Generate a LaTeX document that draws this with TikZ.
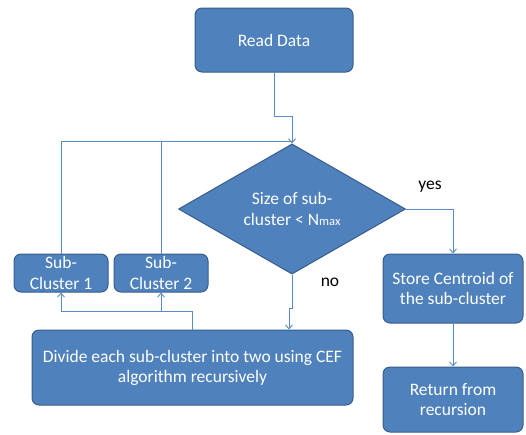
\documentclass[tikz,border=0pt]{standalone}
\usepackage{fontspec}
\setmainfont{Carlito}
\usepackage{tikz}
\usetikzlibrary{shapes,shapes.geometric}
\usetikzlibrary{calc}
\usetikzlibrary{arrows,arrows.meta}
\definecolor{hopnen}{RGB}{79,129,189}
\definecolor{hopvien}{RGB}{56,93,138}
\definecolor{duongnoi}{RGB}{91,138,198}

\begin{document}
\begin{tikzpicture}[x=1pt,y=-1pt,
	hop/.style={draw=hopvien,fill=hopnen,line width=1pt,rounded corners=7pt,text=white,
		align=center,inner sep=0pt,font=\fontsize{17.5}{20}\selectfont},
	thoi/.style={diamond,draw=hopvien,fill=hopnen,line width=1pt,text=white,
		align=center,inner sep=0pt,font=\fontsize{17.5}{21}\selectfont},
	noi/.style={duongnoi,line width=0.9pt,-{Straight Barb[length=4pt,width=7pt]}},
	nhan/.style={font=\fontsize{17.5}{20}\selectfont}]
	\useasboundingbox (0,0) rectangle (526,434);
	% cac khoi
	\node[hop,minimum width=158pt,minimum height=64pt] (doc) at (274,40) {Read Data};
	\node[thoi,minimum width=227pt,minimum height=102pt] (kichthuoc) at (292,209)
		{Size of sub-\\cluster < N{\fontsize{12.5}{12}\selectfont max}};
	\node[hop,minimum width=94pt,minimum height=38pt,font=\fontsize{17.5}{21}\selectfont] (cum1) at (61,273) {Sub-\\Cluster 1};
	\node[hop,minimum width=94pt,minimum height=38pt,font=\fontsize{17.5}{21}\selectfont] (cum2) at (161,273) {Sub-\\Cluster 2};
	\node[hop,minimum width=321pt,minimum height=75pt] (chia) at (192.5,367.5)
		{Divide each sub-cluster into two using CEF\\algorithm recursively};
	\node[hop,minimum width=140pt,minimum height=69pt] (luu) at (453,288.5)
		{Store Centroid of\\the sub-cluster};
	\node[hop,minimum width=140pt,minimum height=65pt] (trave) at (453,399.5)
		{Return from\\recursion};
	\node[nhan] (co) at (430,187) {yes};
	\node[nhan] (khong) at (330,282) {no};
	% cac duong noi
	\coordinate (gap) at (292,141);
	\coordinate (tach) at ($(chia.north)+(0,-18)$);
	\draw[duongnoi,line width=0.9pt] (doc.south) -- ++(0,44) -| (gap);
	\draw[noi] (cum1.north) |- (gap) -- (kichthuoc.north);
	\draw[duongnoi,line width=0.9pt] (cum2.north) -- (cum2.north |- gap);
	\draw[noi] (kichthuoc.east) -| (luu.north);
	\draw[noi] (kichthuoc.south) -- ++(0,34) -| ([xshift=96.5pt]chia.north);
	\draw[duongnoi,line width=0.9pt] (chia.north) -- (tach);
	\draw[noi] (tach) -| (cum1.south);
	\draw[noi] (tach -| cum2.south) -- (cum2.south);
	\draw[noi] (luu.south) -- (trave.north);
\end{tikzpicture}
\end{document}
